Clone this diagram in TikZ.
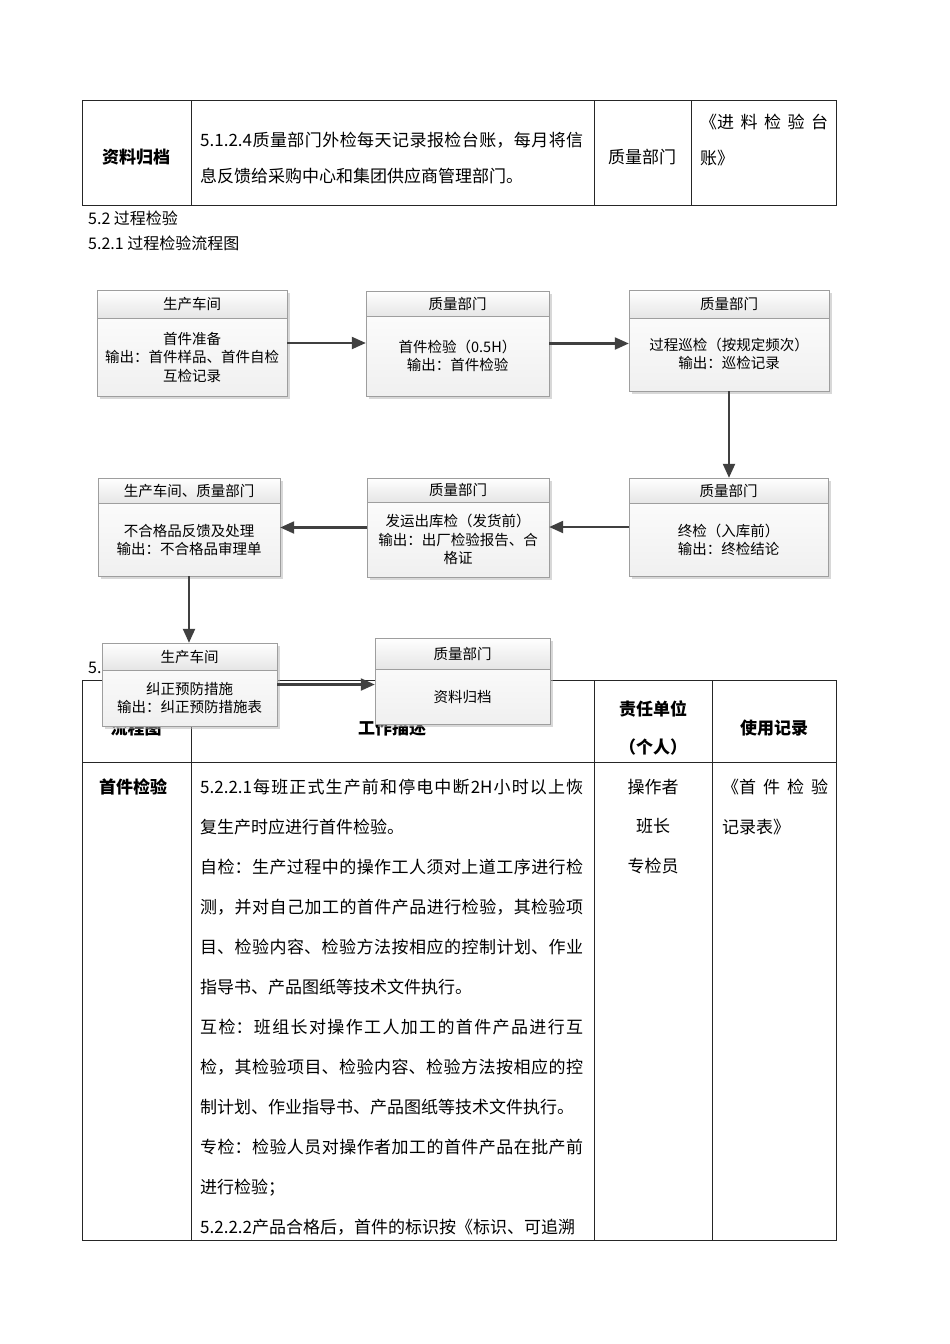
\documentclass[tikz,border=0pt]{standalone}
\usepackage{fontspec}
\setmainfont{Noto Sans CJK SC}
\usetikzlibrary{arrows.meta,shadows,fit}
\XeTeXlinebreaklocale "zh"
\XeTeXlinebreakskip=0pt plus 10pt

\tikzset{
  grid line/.style={draw=black!85, line width=0.9pt},
  celltext/.style={font=\fontsize{17}{40}\selectfont, inner sep=0pt},
  celltitle/.style={font=\fontsize{17}{20}\selectfont\bfseries, inner sep=0pt},
  para/.style={celltext, anchor=base west, align=justify},
  section/.style={font=\fontsize{16}{20}\selectfont, anchor=west, inner sep=0pt},
  flowbox/.style={inner sep=0pt, top color=white, bottom color=black!6, drop shadow={shadow xshift=3pt, shadow yshift=-3pt, fill=black!30, opacity=0.5}},
  boxline/.style={draw=black!38, line width=0.8pt},
  flowhead/.style={font=\fontsize{14.5}{18}\selectfont, inner sep=0pt},
  flowtext/.style={font=\fontsize{14.5}{18.5}\selectfont, align=center, inner sep=0pt},
  flow/.style={draw=black!75, line width=2.2pt, -{Triangle[length=14pt,width=12pt]}}
}

\newcommand{\flowbox}[9]{%
  \node[flowbox, fit={(#2,#3) (#4,#5)}] (#1) {};
  \fill[top color=white, bottom color=black!10] (#2,#3) rectangle (#4,#6);
  \draw[boxline] (#2,#3) rectangle (#4,#5) (#2,#6) -- (#4,#6);
  \node[flowhead] (#1h) at ({(#2+#4)/2},{(#3+#6)/2}) {#7};
  \node[flowtext] (#1t) at ({(#2+#4)/2},#9) {#8};
}

\begin{document}
\begin{tikzpicture}[x=1pt,y=-1pt]
\useasboundingbox[fill=white] (0,0) rectangle (950,1344);
\draw[grid line] (82,100) rectangle (836,205) (191,100) -- (191,205) (594,100) -- (594,205) (691,100) -- (691,205);
\node[celltitle] (t1a) at (136,157) {资料归档};
\node[para, text width=383pt, font=\fontsize{17}{36}\selectfont] (t1b) at (200,146.5) {5.1.2.4质量部门外检每天记录报检台账，每月将信\linebreak 息反馈给采购中心和集团供应商管理部门。};
\node[celltext] (t1c) at (642,157) {质量部门};
\node[para, text width=128pt, font=\fontsize{17}{36}\selectfont] (t1d) at (700,128.5) {《进料检验台\linebreak 账》};
\node[section] (s1) at (88,218) {5.2 过程检验};
\node[section] (s2) at (88,243) {5.2.1 过程检验流程图};
\node[section] (s3) at (88,668) {5.};
\draw[grid line] (82,680) rectangle (836,1240) (82,762) -- (836,762) (191,680) -- (191,1240) (594,680) -- (594,1240) (712,680) -- (712,1240);
\node[celltitle] (h1) at (136,728) {流程图};
\node[celltitle] (h2) at (392,728) {工作描述};
\node[celltitle] (h3) at (653,709) {责任单位};
\node[celltitle] (h3b) at (653,747) {（个人）};
\node[celltitle] (h4) at (774,728) {使用记录};
\node[celltitle] (r1) at (133,787) {首件检验};
\node[para, text width=383pt] (r1d) at (200,793.5) {5.2.2.1每班正式生产前和停电中断2H小时以上恢\linebreak 复生产时应进行首件检验。\par
自检：生产过程中的操作工人须对上道工序进行检\linebreak 测，并对自己加工的首件产品进行检验，其检验项\linebreak 目、检验内容、检验方法按相应的控制计划、作业\linebreak 指导书、产品图纸等技术文件执行。\par
互检：班组长对操作工人加工的首件产品进行互\linebreak 检，其检验项目、检验内容、检验方法按相应的控\linebreak 制计划、作业指导书、产品图纸等技术文件执行。\par
专检：检验人员对操作者加工的首件产品在批产前\linebreak 进行检验；\par
5.2.2.2产品合格后，首件的标识按《标识、可追溯};
\node[celltext] (r1u1) at (653,787) {操作者};
\node[celltext] (r1u2) at (653,826) {班长};
\node[celltext] (r1u3) at (653,866) {专检员};
\node[para, text width=106pt] (r1r) at (722,793.5) {《首件检验\linebreak 记录表》};
\flowbox{b1}{97}{290}{287}{396}{318}{生产车间}{首件准备\\输出：首件样品、首件自检\\互检记录}{357}
\flowbox{b2}{366}{291}{549}{396}{316}{质量部门}{首件检验（0.5H）\\输出：首件检验}{356}
\flowbox{b3}{629}{290}{829}{391}{318}{质量部门}{过程巡检（按规定频次）\\输出：巡检记录}{354}
\flowbox{b4}{98}{478}{280}{576}{503}{生产车间、质量部门}{不合格品反馈及处理\\输出：不合格品审理单}{540}
\flowbox{b5}{367}{478}{549}{577}{502}{质量部门}{发运出库检（发货前）\\输出：出厂检验报告、合\\格证}{539.5}
\flowbox{b6}{629}{478}{828}{576}{503}{质量部门}{终检（入库前）\\输出：终检结论}{540}
\flowbox{b7}{102}{643}{277}{726}{670}{生产车间}{纠正预防措施\\输出：纠正预防措施表}{698}
\flowbox{b8}{375}{638}{550}{724}{669}{质量部门}{资料归档}{697}
\draw[flow] (b1.east) -- (b1.east -| b2.west);
\draw[flow] (b2.east) -- (b2.east -| b3.west);
\draw[flow] (b3.south) -- (b3.south |- b6.north);
\draw[flow] (b6.west) -- (b6.west -| b5.east);
\draw[flow] (b5.west) -- (b5.west -| b4.east);
\draw[flow] (b4.south) -- (b4.south |- b7.north);
\draw[flow] (b7.east) -- (b7.east -| b8.west);
\end{tikzpicture}
\end{document}
